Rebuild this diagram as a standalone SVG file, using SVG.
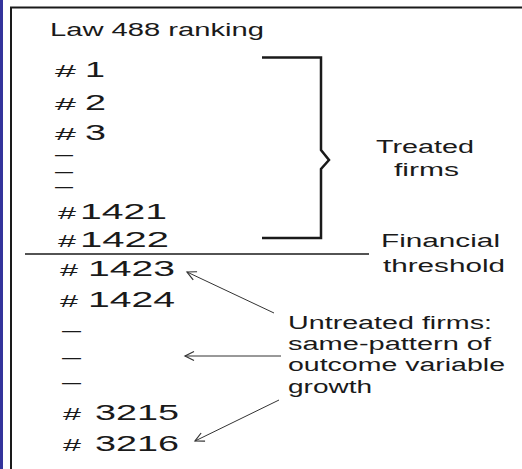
<svg xmlns="http://www.w3.org/2000/svg" width="522" height="469" viewBox="0 0 522 469">
<defs>
<style>
.t{font-family:"Liberation Sans",Arial,sans-serif;fill:#1a1a1a}
.lab{font-size:18px}
.num{font-size:22px}
.hs{font-size:17px}
.dash{font-size:13px;font-weight:bold}
.ln{stroke:#1a1a1a;fill:none}
.arr{stroke:#333;stroke-width:1;fill:none;marker-end:url(#ah)}
</style>
<marker id="ah" markerUnits="userSpaceOnUse" markerWidth="14" markerHeight="14" viewBox="-12 -7 14 14" refX="0" refY="0" orient="auto">
<path d="M-9,-4.5 L0,0 L-9,4.5" fill="none" stroke="#333" stroke-width="1.2"/>
</marker>
</defs>
<rect width="522" height="469" fill="#fff"/>
<rect x="0" y="0" width="3" height="469" fill="#34349c"/>
<g id="frame">
<line class="ln" x1="11" y1="7" x2="11" y2="469" stroke-width="2"/>
<line class="ln" x1="10" y1="7.5" x2="522" y2="7.5" stroke-width="2"/>
</g>
<g id="title"><text class="t lab" x="50" y="36" textLength="214" lengthAdjust="spacingAndGlyphs">Law 488 ranking</text></g>
<g id="ranking">
<text class="t hs" x="55" y="77" textLength="21" lengthAdjust="spacingAndGlyphs">#</text>
<text class="t num" x="85" y="77" textLength="20" lengthAdjust="spacingAndGlyphs">1</text>
<text class="t hs" x="55" y="110" textLength="21" lengthAdjust="spacingAndGlyphs">#</text>
<text class="t num" x="85" y="110" textLength="21" lengthAdjust="spacingAndGlyphs">2</text>
<text class="t hs" x="55" y="140" textLength="21" lengthAdjust="spacingAndGlyphs">#</text>
<text class="t num" x="85" y="140" textLength="21" lengthAdjust="spacingAndGlyphs">3</text>
<text class="t dash" x="55" y="158.5" textLength="18" lengthAdjust="spacingAndGlyphs">—</text>
<text class="t dash" x="55" y="175.5" textLength="18" lengthAdjust="spacingAndGlyphs">—</text>
<text class="t dash" x="55" y="190.5" textLength="18" lengthAdjust="spacingAndGlyphs">—</text>
<text class="t hs" x="58" y="219" textLength="18" lengthAdjust="spacingAndGlyphs">#</text>
<text class="t num" x="80" y="219" textLength="87" lengthAdjust="spacingAndGlyphs">1421</text>
<text class="t hs" x="58" y="247" textLength="18" lengthAdjust="spacingAndGlyphs">#</text>
<text class="t num" x="80" y="247" textLength="89" lengthAdjust="spacingAndGlyphs">1422</text>
<text class="t hs" x="60" y="276" textLength="18" lengthAdjust="spacingAndGlyphs">#</text>
<text class="t num" x="88" y="276" textLength="87" lengthAdjust="spacingAndGlyphs">1423</text>
<text class="t hs" x="60" y="307" textLength="18" lengthAdjust="spacingAndGlyphs">#</text>
<text class="t num" x="88" y="307" textLength="87" lengthAdjust="spacingAndGlyphs">1424</text>
<text class="t dash" x="62" y="334.5" textLength="19" lengthAdjust="spacingAndGlyphs">—</text>
<text class="t dash" x="62" y="361.5" textLength="19" lengthAdjust="spacingAndGlyphs">—</text>
<text class="t dash" x="62" y="386.5" textLength="19" lengthAdjust="spacingAndGlyphs">—</text>
<text class="t hs" x="63" y="420" textLength="18" lengthAdjust="spacingAndGlyphs">#</text>
<text class="t num" x="95" y="420" textLength="84" lengthAdjust="spacingAndGlyphs">3215</text>
<text class="t hs" x="63" y="451" textLength="18" lengthAdjust="spacingAndGlyphs">#</text>
<text class="t num" x="95" y="451" textLength="84" lengthAdjust="spacingAndGlyphs">3216</text>
</g>
<g id="bracket">
<path class="ln" d="M262,57.5 H321 V150 L329,160 L321,169 V238 H262" stroke-width="2.5"/>
</g>
<g id="treated">
<text class="t lab" x="376" y="153" textLength="98" lengthAdjust="spacingAndGlyphs">Treated</text>
<text class="t lab" x="394" y="176" textLength="65" lengthAdjust="spacingAndGlyphs">firms</text>
</g>
<g id="threshold">
<line class="ln" x1="25" y1="254" x2="369" y2="254" stroke-width="1.5"/>
<text class="t lab" x="381" y="247" textLength="119" lengthAdjust="spacingAndGlyphs">Financial</text>
<text class="t lab" x="383" y="272" textLength="122" lengthAdjust="spacingAndGlyphs">threshold</text>
</g>
<g id="untreated">
<text class="t lab" x="288" y="329" textLength="204" lengthAdjust="spacingAndGlyphs">Untreated firms:</text>
<text class="t lab" x="288" y="350" textLength="203" lengthAdjust="spacingAndGlyphs">same-pattern of</text>
<text class="t lab" x="288" y="371" textLength="217" lengthAdjust="spacingAndGlyphs">outcome variable</text>
<text class="t lab" x="288" y="393" textLength="84" lengthAdjust="spacingAndGlyphs">growth</text>
</g>
<g id="connectors">
<line class="arr" x1="274" y1="313" x2="187" y2="272"/>
<line class="arr" x1="281" y1="356" x2="185" y2="356"/>
<line class="arr" x1="279" y1="400" x2="195" y2="441"/>
</g>
</svg>
